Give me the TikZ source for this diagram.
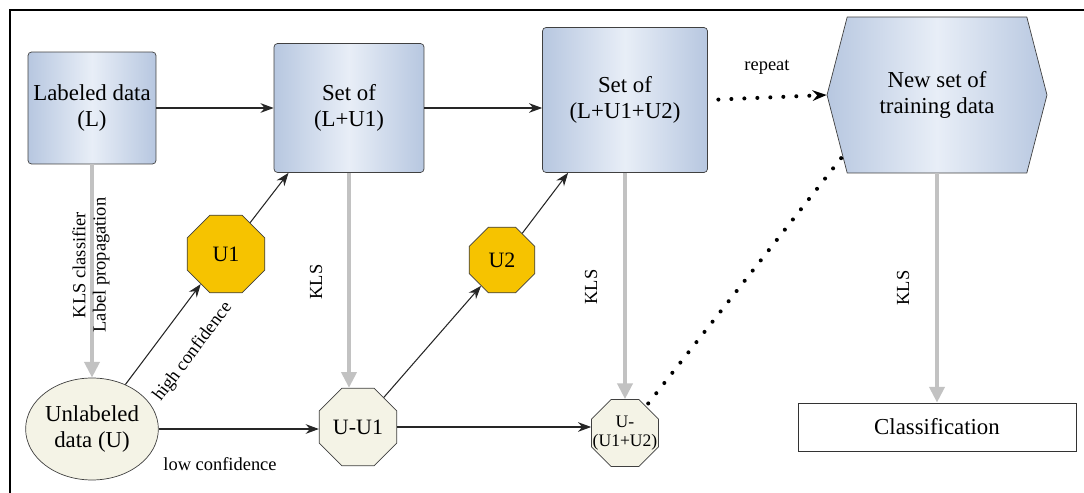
\documentclass[tikz,border=0pt]{standalone}
\usepackage{fontspec}
\setmainfont{Liberation Serif}
\usetikzlibrary{arrows.meta, positioning, shapes.geometric, shapes.symbols}
\definecolor{bxEdge}{HTML}{B7C7E0}
\definecolor{bxMid}{HTML}{E8EEF7}
\definecolor{uYel}{HTML}{F6C300}
\definecolor{uCream}{HTML}{F4F3E6}
\definecolor{kGray}{HTML}{C2C2C2}

\begin{document}
\begin{tikzpicture}[
    x=0.02cm, y=-0.02cm,
    setbox/.style={draw=black!75, rounded corners=2pt, left color=bxEdge, right color=bxEdge,
                   middle color=bxMid, align=center, font=\fontsize{13}{14.5}\selectfont, inner sep=2pt},
    octo/.style={regular polygon, regular polygon sides=8, draw=black!75, inner sep=0pt,
                 font=\fontsize{12.5}{14}\selectfont},
    small/.style={font=\fontsize{10.5}{11.5}\selectfont, inner sep=1pt},
    flow/.style={draw=black!85, line width=0.6pt, -{Stealth[length=7.5pt,width=5.5pt]}},
    klsarrow/.style={draw=kGray, line width=2.8pt, -{Triangle[length=9pt,width=8.5pt]}},
    dotline/.style={line width=2.3pt, line cap=round, dash pattern=on 0pt off 7.4pt},
  ]
    \useasboundingbox (0,0) rectangle (1084,493);
    \draw[line width=0.8pt] (10,493) -- (10,10) -- (1084,10);

    % top row: training sets
    \node[setbox, minimum width=2.56cm, minimum height=2.24cm] (lab) at (92,108) {Labeled data\\(L)};
    \node[setbox, minimum width=3.0cm, minimum height=2.58cm] (s1) at (349,108) {Set of\\(L+U1)};
    \node[setbox, minimum width=3.3cm, minimum height=2.9cm] (s2) at (625,100) {Set of\\(L+U1+U2)};
    \node[signal, signal to=west and east, signal pointer angle=151, draw=black!75,
          left color=bxEdge, right color=bxEdge, middle color=bxMid, align=center,
          font=\fontsize{13}{14.5}\selectfont, minimum width=4.4cm, minimum height=3.12cm,
          inner sep=0pt] (nw) at (937,95) {New set of\\training data};

    % picked samples
    \node[octo, fill=uYel, minimum size=1.68cm] (u1) at (226,254) {U1};
    \node[octo, fill=uYel, minimum size=1.42cm] (u2) at (502,260) {U2};

    % bottom row: unlabeled data
    \node[ellipse, draw=black!75, fill=uCream, minimum width=2.56cm, minimum height=2.04cm,
          align=center, font=\fontsize{13}{14.5}\selectfont, inner sep=0pt] (ul) at (92,429) {Unlabeled\\data (U)};
    \node[octo, fill=uCream, minimum size=1.68cm] (uu1) at (358,427) {U-U1};
    \node[octo, fill=uCream, minimum size=1.45cm,
          label={[align=center, font=\fontsize{10}{10.5}\selectfont]center:U-\\(U1+U2)}] (uu2) at (625,433) {};
    \node[draw=black!80, fill=white, minimum width=5.56cm, minimum height=0.96cm,
          font=\fontsize{13}{14.5}\selectfont] (cls) at (937,427) {Classification};

    % edges
    \draw[flow] (lab) -- (s1);
    \draw[flow] (s1.east) -- (s1.east -| s2.west);
    \draw[dotline, shorten <=6pt, -{Stealth[length=8pt,width=6pt]}] (s2.east) -- (nw.west);
    \draw[flow] (ul) -- (u1.230);
    \draw[flow] (u1) -- (s1.227);
    \draw[flow] (uu1) -- (u2.231);
    \draw[flow] (u2) -- (s2.232);
    \draw[flow] (ul.east) -- (ul.east -| uu1.west);
    \draw[flow] (uu1.east) -- (uu1.east -| uu2.west);
    \draw[dotline, shorten <=2pt] (uu2) -- (nw.213);
    % KLS steps
    \draw[klsarrow] (lab) -- (ul);
    \draw[klsarrow] (s1.south) -- (s1.south |- uu1.north);
    \draw[klsarrow] (s2.south) -- (s2.south |- uu2.north);
    \draw[klsarrow] (nw.south) -- (cls.north);

    % labels
    \node[small, rotate=90, align=center] (tKl) at (91,265) {KLS classifier\\Label propagation};
    \node[small, rotate=90] (tK1) at (316,282) {KLS};
    \node[small, rotate=90] (tK2) at (591,287) {KLS};
    \node[small, rotate=90] (tK3) at (903,288) {KLS};
    \node[small, rotate=53] (tHi) at (193,352) {high confidence};
    \node[small] (tLo) at (220,464) {low confidence};
    \node[small] (tRp) at (767,67) {repeat};
  \end{tikzpicture}
\end{document}
